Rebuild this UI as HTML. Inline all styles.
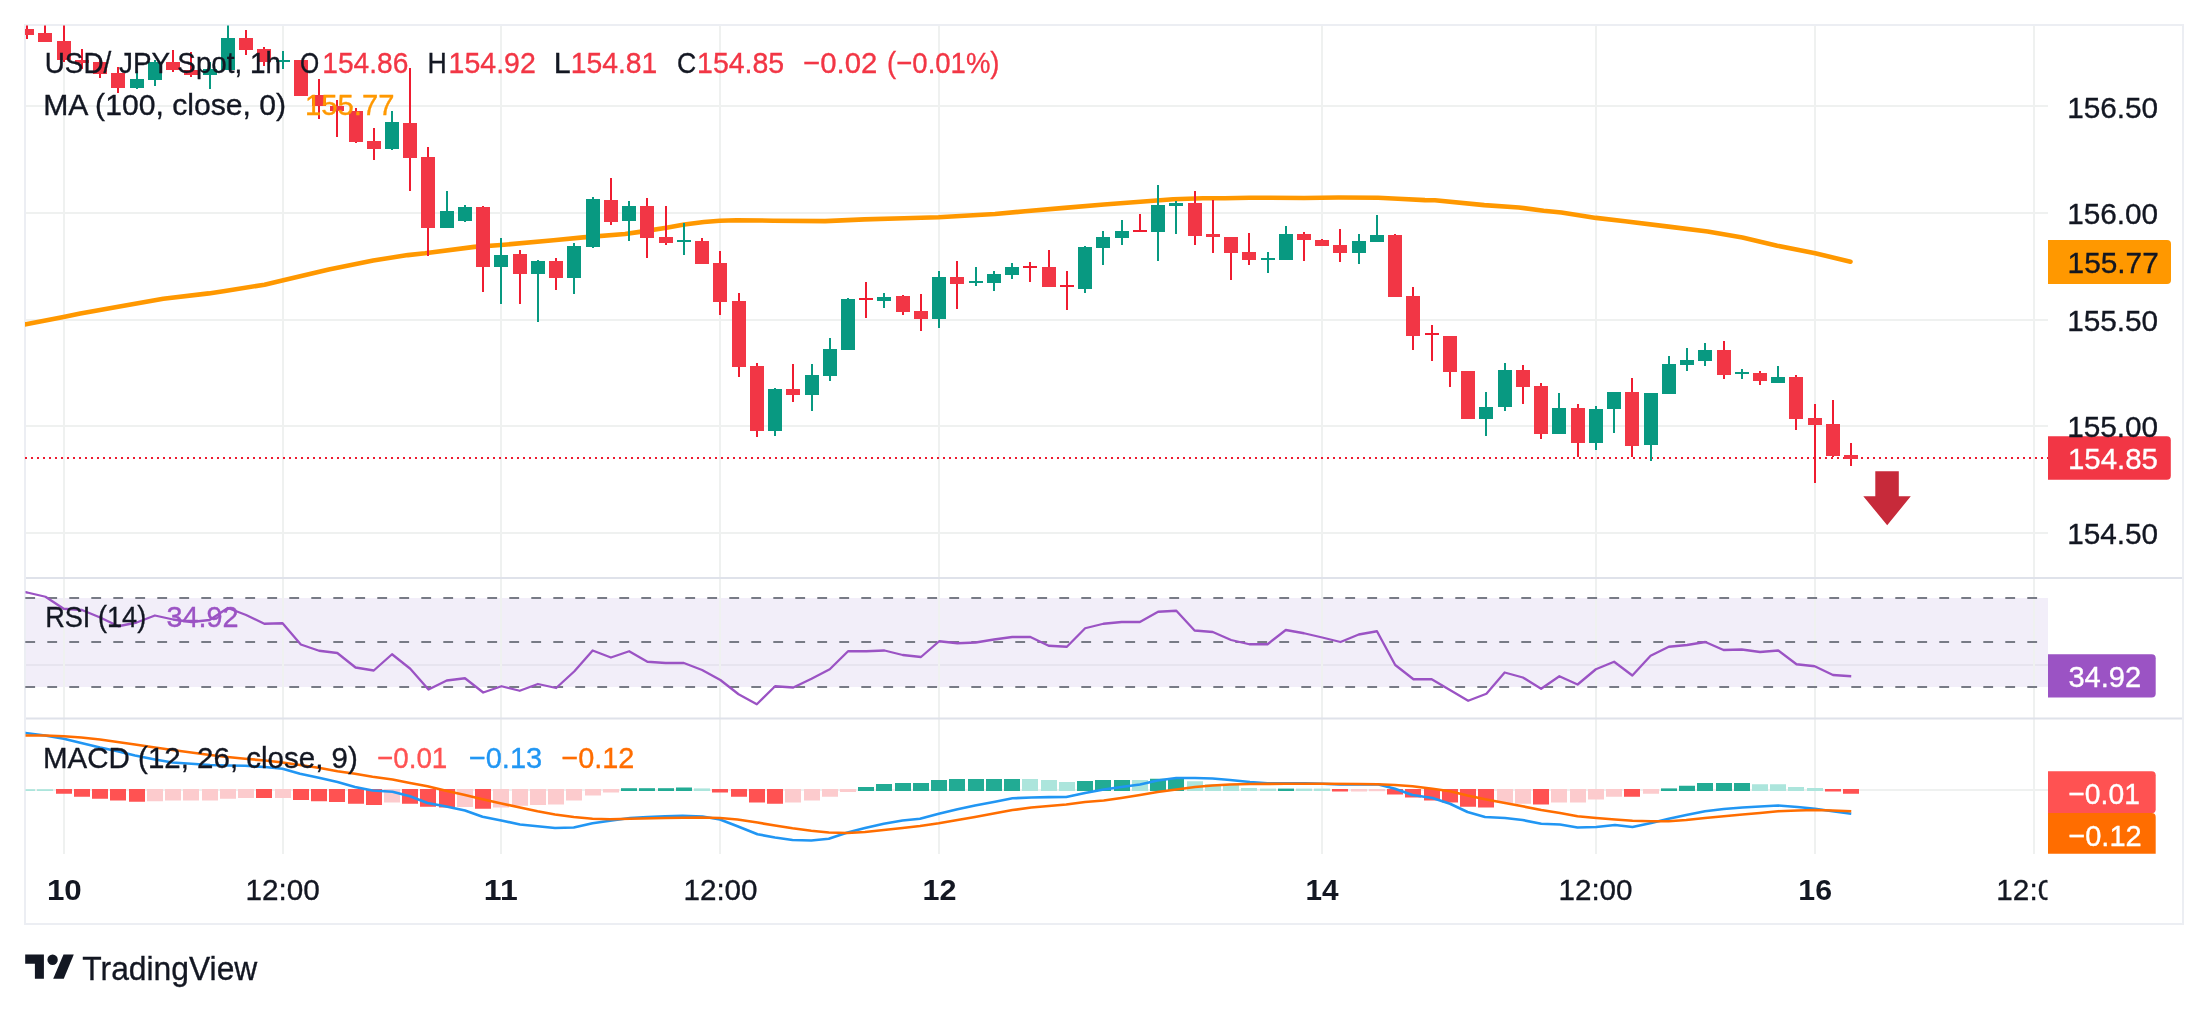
<!DOCTYPE html><html><head><meta charset="utf-8"><style>html,body{margin:0;padding:0;background:#fff;width:2208px;height:1012px;overflow:hidden}svg{display:block;will-change:transform}text{font-family:"Liberation Sans",sans-serif}</style></head><body>
<svg width="2208" height="1012" viewBox="0 0 2208 1012">
<defs><clipPath id="cm"><rect x="25" y="25.5" width="2023" height="551.5"/></clipPath><clipPath id="cr"><rect x="25.5" y="579" width="2022.5" height="139"/></clipPath><clipPath id="cd"><rect x="25.5" y="719.5" width="2022.5" height="134.5"/></clipPath></defs>
<rect x="26" y="105" width="2022" height="2" fill="#EFF1F0"/>
<rect x="26" y="212" width="2022" height="2" fill="#EFF1F0"/>
<rect x="26" y="319" width="2022" height="2" fill="#EFF1F0"/>
<rect x="26" y="425" width="2022" height="2" fill="#EFF1F0"/>
<rect x="26" y="532" width="2022" height="2" fill="#EFF1F0"/>
<rect x="26" y="598" width="2022" height="89" fill="#F2EEF9"/>
<rect x="26" y="664" width="2022" height="2" fill="#E7E4EF"/>
<rect x="26" y="789" width="2022" height="2" fill="#EFF1F0"/>
<rect x="63" y="26" width="2" height="828" fill="#EFF1F0"/>
<rect x="282" y="26" width="2" height="828" fill="#EFF1F0"/>
<rect x="500" y="26" width="2" height="828" fill="#EFF1F0"/>
<rect x="719" y="26" width="2" height="828" fill="#EFF1F0"/>
<rect x="938" y="26" width="2" height="828" fill="#EFF1F0"/>
<rect x="1321" y="26" width="2" height="828" fill="#EFF1F0"/>
<rect x="1595" y="26" width="2" height="828" fill="#EFF1F0"/>
<rect x="1814" y="26" width="2" height="828" fill="#EFF1F0"/>
<rect x="2033" y="26" width="2" height="828" fill="#EFF1F0"/>
<rect x="25" y="25" width="2158" height="899" fill="none" stroke="#ECEEF3" stroke-width="2"/>
<rect x="26" y="577" width="2156" height="2" fill="#DFE2EA"/>
<rect x="26" y="717.5" width="2156" height="2" fill="#DFE2EA"/>
<line x1="25.3" y1="598" x2="2040" y2="598" stroke="#787B86" stroke-width="2" stroke-dasharray="9.8 12.2"/>
<line x1="25.3" y1="642" x2="2040" y2="642" stroke="#787B86" stroke-width="2" stroke-dasharray="9.8 12.2"/>
<line x1="25.3" y1="687" x2="2040" y2="687" stroke="#787B86" stroke-width="2" stroke-dasharray="9.8 12.2"/>
<g clip-path="url(#cm)">
<polyline points="20,325.5 26,324.2 63.5,317.1 80.3,313.6 123.8,305.7 163.3,298.8 208.8,293.4 225,290.9 264.5,284.7 283.3,280.3 328.8,269.4 373.2,260.5 407.8,255.1 425,253.3 474.4,246.9 501.1,245 553.5,240.3 583.1,237.4 625,234 639.8,231.9 666.5,227.7 684.3,224.5 704,222 719.9,220.7 736.7,220.2 773.2,220.7 825,221.1 864.5,219.4 904,218.2 938.6,217.2 973.2,215.3 995,214 1025,211.3 1064.5,207.9 1104,204.5 1143.6,201.5 1173.2,199.3 1202.9,198.3 1225,198.3 1249.7,197.7 1304,198 1338.6,197.5 1378.2,197.7 1397.9,198.7 1425,200.1 1434.9,200.3 1484.3,205.1 1518.9,207.5 1543.6,210.7 1561.4,212.5 1596,217.9 1625,221.2 1668.5,226.6 1707.6,231.5 1742.4,237.5 1777.2,245.7 1815.2,253.3 1850.5,261.7" fill="none" stroke="#FF9800" stroke-width="4.6" stroke-linejoin="round" stroke-linecap="round"/>
<line x1="25" y1="458" x2="2048" y2="458" stroke="#EE1B30" stroke-width="2" stroke-dasharray="2 4"/>
<rect x="26" y="20" width="2" height="19" fill="#EF1C30"/>
<rect x="20" y="29" width="14" height="6" fill="#F23645"/>
<rect x="44" y="20" width="2" height="22" fill="#EF1C30"/>
<rect x="38" y="33" width="14" height="9" fill="#F23645"/>
<rect x="63" y="20" width="2" height="42" fill="#EF1C30"/>
<rect x="57" y="41" width="14" height="19" fill="#F23645"/>
<rect x="81" y="49" width="2" height="20" fill="#EF1C30"/>
<rect x="75" y="60" width="14" height="3" fill="#F23645"/>
<rect x="99" y="58" width="2" height="20" fill="#EF1C30"/>
<rect x="93" y="62" width="14" height="12" fill="#F23645"/>
<rect x="117" y="67" width="2" height="26" fill="#EF1C30"/>
<rect x="111" y="73" width="14" height="15" fill="#F23645"/>
<rect x="136" y="71" width="2" height="18" fill="#089981"/>
<rect x="130" y="79" width="14" height="9" fill="#089981"/>
<rect x="154" y="60" width="2" height="26" fill="#089981"/>
<rect x="148" y="62" width="14" height="18" fill="#089981"/>
<rect x="172" y="50" width="2" height="22" fill="#EF1C30"/>
<rect x="166" y="62" width="14" height="8" fill="#F23645"/>
<rect x="190" y="52" width="2" height="25" fill="#EF1C30"/>
<rect x="184" y="70" width="14" height="5" fill="#F23645"/>
<rect x="209" y="62" width="2" height="27" fill="#089981"/>
<rect x="203" y="69" width="14" height="6" fill="#089981"/>
<rect x="227" y="20" width="2" height="50" fill="#089981"/>
<rect x="221" y="38" width="14" height="32" fill="#089981"/>
<rect x="245" y="30" width="2" height="25" fill="#EF1C30"/>
<rect x="239" y="38" width="14" height="12" fill="#F23645"/>
<rect x="263" y="47" width="2" height="19" fill="#EF1C30"/>
<rect x="257" y="49" width="14" height="13" fill="#F23645"/>
<rect x="282" y="51" width="2" height="18" fill="#089981"/>
<rect x="276" y="60" width="14" height="2" fill="#089981"/>
<rect x="300" y="60" width="2" height="36" fill="#EF1C30"/>
<rect x="294" y="60" width="14" height="36" fill="#F23645"/>
<rect x="318" y="79" width="2" height="40" fill="#EF1C30"/>
<rect x="312" y="95" width="14" height="11" fill="#F23645"/>
<rect x="336" y="100" width="2" height="37" fill="#EF1C30"/>
<rect x="330" y="106" width="14" height="5" fill="#F23645"/>
<rect x="355" y="108" width="2" height="35" fill="#EF1C30"/>
<rect x="349" y="111" width="14" height="31" fill="#F23645"/>
<rect x="373" y="128" width="2" height="32" fill="#EF1C30"/>
<rect x="367" y="141" width="14" height="8" fill="#F23645"/>
<rect x="391" y="111" width="2" height="39" fill="#089981"/>
<rect x="385" y="122" width="14" height="27" fill="#089981"/>
<rect x="409" y="68" width="2" height="123" fill="#EF1C30"/>
<rect x="403" y="123" width="14" height="35" fill="#F23645"/>
<rect x="427" y="147" width="2" height="109" fill="#EF1C30"/>
<rect x="421" y="157" width="14" height="71" fill="#F23645"/>
<rect x="446" y="191" width="2" height="37" fill="#089981"/>
<rect x="440" y="211" width="14" height="17" fill="#089981"/>
<rect x="464" y="205" width="2" height="17" fill="#089981"/>
<rect x="458" y="207" width="14" height="14" fill="#089981"/>
<rect x="482" y="206" width="2" height="86" fill="#EF1C30"/>
<rect x="476" y="207" width="14" height="60" fill="#F23645"/>
<rect x="500" y="238" width="2" height="66" fill="#089981"/>
<rect x="494" y="255" width="14" height="12" fill="#089981"/>
<rect x="519" y="250" width="2" height="54" fill="#EF1C30"/>
<rect x="513" y="254" width="14" height="20" fill="#F23645"/>
<rect x="537" y="260" width="2" height="62" fill="#089981"/>
<rect x="531" y="261" width="14" height="13" fill="#089981"/>
<rect x="555" y="258" width="2" height="32" fill="#EF1C30"/>
<rect x="549" y="261" width="14" height="17" fill="#F23645"/>
<rect x="573" y="243" width="2" height="51" fill="#089981"/>
<rect x="567" y="246" width="14" height="32" fill="#089981"/>
<rect x="592" y="197" width="2" height="51" fill="#089981"/>
<rect x="586" y="199" width="14" height="48" fill="#089981"/>
<rect x="610" y="178" width="2" height="47" fill="#EF1C30"/>
<rect x="604" y="200" width="14" height="22" fill="#F23645"/>
<rect x="628" y="201" width="2" height="40" fill="#089981"/>
<rect x="622" y="206" width="14" height="15" fill="#089981"/>
<rect x="646" y="198" width="2" height="60" fill="#EF1C30"/>
<rect x="640" y="206" width="14" height="32" fill="#F23645"/>
<rect x="665" y="206" width="2" height="39" fill="#EF1C30"/>
<rect x="659" y="237" width="14" height="6" fill="#F23645"/>
<rect x="683" y="223" width="2" height="32" fill="#089981"/>
<rect x="677" y="240" width="14" height="2" fill="#089981"/>
<rect x="701" y="238" width="2" height="26" fill="#EF1C30"/>
<rect x="695" y="241" width="14" height="23" fill="#F23645"/>
<rect x="719" y="251" width="2" height="64" fill="#EF1C30"/>
<rect x="713" y="263" width="14" height="39" fill="#F23645"/>
<rect x="738" y="293" width="2" height="84" fill="#EF1C30"/>
<rect x="732" y="301" width="14" height="66" fill="#F23645"/>
<rect x="756" y="363" width="2" height="74" fill="#EF1C30"/>
<rect x="750" y="366" width="14" height="65" fill="#F23645"/>
<rect x="774" y="388" width="2" height="48" fill="#089981"/>
<rect x="768" y="389" width="14" height="42" fill="#089981"/>
<rect x="792" y="364" width="2" height="38" fill="#EF1C30"/>
<rect x="786" y="389" width="14" height="6" fill="#F23645"/>
<rect x="811" y="364" width="2" height="47" fill="#089981"/>
<rect x="805" y="375" width="14" height="20" fill="#089981"/>
<rect x="829" y="338" width="2" height="43" fill="#089981"/>
<rect x="823" y="349" width="14" height="27" fill="#089981"/>
<rect x="847" y="298" width="2" height="52" fill="#089981"/>
<rect x="841" y="299" width="14" height="51" fill="#089981"/>
<rect x="865" y="282" width="2" height="36" fill="#EF1C30"/>
<rect x="859" y="298" width="14" height="2" fill="#EF1C30"/>
<rect x="883" y="293" width="2" height="15" fill="#089981"/>
<rect x="877" y="297" width="14" height="4" fill="#089981"/>
<rect x="902" y="295" width="2" height="20" fill="#EF1C30"/>
<rect x="896" y="296" width="14" height="16" fill="#F23645"/>
<rect x="920" y="294" width="2" height="37" fill="#EF1C30"/>
<rect x="914" y="311" width="14" height="8" fill="#F23645"/>
<rect x="938" y="271" width="2" height="57" fill="#089981"/>
<rect x="932" y="277" width="14" height="42" fill="#089981"/>
<rect x="956" y="261" width="2" height="48" fill="#EF1C30"/>
<rect x="950" y="277" width="14" height="7" fill="#F23645"/>
<rect x="975" y="267" width="2" height="19" fill="#089981"/>
<rect x="969" y="281" width="14" height="2" fill="#089981"/>
<rect x="993" y="271" width="2" height="20" fill="#089981"/>
<rect x="987" y="274" width="14" height="9" fill="#089981"/>
<rect x="1011" y="263" width="2" height="16" fill="#089981"/>
<rect x="1005" y="267" width="14" height="8" fill="#089981"/>
<rect x="1029" y="262" width="2" height="20" fill="#EF1C30"/>
<rect x="1023" y="266" width="14" height="2" fill="#EF1C30"/>
<rect x="1048" y="250" width="2" height="37" fill="#EF1C30"/>
<rect x="1042" y="267" width="14" height="20" fill="#F23645"/>
<rect x="1066" y="271" width="2" height="39" fill="#EF1C30"/>
<rect x="1060" y="285" width="14" height="2" fill="#EF1C30"/>
<rect x="1084" y="246" width="2" height="47" fill="#089981"/>
<rect x="1078" y="247" width="14" height="42" fill="#089981"/>
<rect x="1102" y="231" width="2" height="34" fill="#089981"/>
<rect x="1096" y="237" width="14" height="11" fill="#089981"/>
<rect x="1121" y="220" width="2" height="25" fill="#089981"/>
<rect x="1115" y="231" width="14" height="7" fill="#089981"/>
<rect x="1139" y="214" width="2" height="18" fill="#EF1C30"/>
<rect x="1133" y="230" width="14" height="2" fill="#EF1C30"/>
<rect x="1157" y="185" width="2" height="76" fill="#089981"/>
<rect x="1151" y="205" width="14" height="27" fill="#089981"/>
<rect x="1175" y="201" width="2" height="33" fill="#089981"/>
<rect x="1169" y="203" width="14" height="3" fill="#089981"/>
<rect x="1194" y="191" width="2" height="54" fill="#EF1C30"/>
<rect x="1188" y="203" width="14" height="33" fill="#F23645"/>
<rect x="1212" y="200" width="2" height="53" fill="#EF1C30"/>
<rect x="1206" y="234" width="14" height="3" fill="#F23645"/>
<rect x="1230" y="237" width="2" height="43" fill="#EF1C30"/>
<rect x="1224" y="237" width="14" height="16" fill="#F23645"/>
<rect x="1248" y="233" width="2" height="32" fill="#EF1C30"/>
<rect x="1242" y="252" width="14" height="8" fill="#F23645"/>
<rect x="1267" y="252" width="2" height="21" fill="#089981"/>
<rect x="1261" y="258" width="14" height="2" fill="#089981"/>
<rect x="1285" y="226" width="2" height="34" fill="#089981"/>
<rect x="1279" y="234" width="14" height="26" fill="#089981"/>
<rect x="1303" y="232" width="2" height="29" fill="#EF1C30"/>
<rect x="1297" y="234" width="14" height="6" fill="#F23645"/>
<rect x="1321" y="239" width="2" height="7" fill="#EF1C30"/>
<rect x="1315" y="240" width="14" height="6" fill="#F23645"/>
<rect x="1339" y="229" width="2" height="33" fill="#EF1C30"/>
<rect x="1333" y="245" width="14" height="8" fill="#F23645"/>
<rect x="1358" y="234" width="2" height="30" fill="#089981"/>
<rect x="1352" y="241" width="14" height="12" fill="#089981"/>
<rect x="1376" y="215" width="2" height="27" fill="#089981"/>
<rect x="1370" y="235" width="14" height="7" fill="#089981"/>
<rect x="1394" y="234" width="2" height="63" fill="#EF1C30"/>
<rect x="1388" y="235" width="14" height="62" fill="#F23645"/>
<rect x="1412" y="287" width="2" height="63" fill="#EF1C30"/>
<rect x="1406" y="296" width="14" height="40" fill="#F23645"/>
<rect x="1431" y="325" width="2" height="36" fill="#EF1C30"/>
<rect x="1425" y="333" width="14" height="2" fill="#EF1C30"/>
<rect x="1449" y="336" width="2" height="51" fill="#EF1C30"/>
<rect x="1443" y="336" width="14" height="36" fill="#F23645"/>
<rect x="1467" y="371" width="2" height="48" fill="#EF1C30"/>
<rect x="1461" y="371" width="14" height="48" fill="#F23645"/>
<rect x="1485" y="392" width="2" height="44" fill="#089981"/>
<rect x="1479" y="407" width="14" height="12" fill="#089981"/>
<rect x="1504" y="363" width="2" height="48" fill="#089981"/>
<rect x="1498" y="370" width="14" height="37" fill="#089981"/>
<rect x="1522" y="365" width="2" height="39" fill="#EF1C30"/>
<rect x="1516" y="370" width="14" height="17" fill="#F23645"/>
<rect x="1540" y="383" width="2" height="56" fill="#EF1C30"/>
<rect x="1534" y="386" width="14" height="48" fill="#F23645"/>
<rect x="1558" y="393" width="2" height="41" fill="#089981"/>
<rect x="1552" y="408" width="14" height="26" fill="#089981"/>
<rect x="1577" y="404" width="2" height="53" fill="#EF1C30"/>
<rect x="1571" y="408" width="14" height="35" fill="#F23645"/>
<rect x="1595" y="406" width="2" height="44" fill="#089981"/>
<rect x="1589" y="409" width="14" height="34" fill="#089981"/>
<rect x="1613" y="392" width="2" height="41" fill="#089981"/>
<rect x="1607" y="392" width="14" height="17" fill="#089981"/>
<rect x="1631" y="378" width="2" height="79" fill="#EF1C30"/>
<rect x="1625" y="392" width="14" height="54" fill="#F23645"/>
<rect x="1650" y="393" width="2" height="68" fill="#089981"/>
<rect x="1644" y="393" width="14" height="52" fill="#089981"/>
<rect x="1668" y="356" width="2" height="38" fill="#089981"/>
<rect x="1662" y="364" width="14" height="30" fill="#089981"/>
<rect x="1686" y="348" width="2" height="23" fill="#089981"/>
<rect x="1680" y="360" width="14" height="5" fill="#089981"/>
<rect x="1704" y="343" width="2" height="23" fill="#089981"/>
<rect x="1698" y="350" width="14" height="11" fill="#089981"/>
<rect x="1723" y="341" width="2" height="38" fill="#EF1C30"/>
<rect x="1717" y="350" width="14" height="25" fill="#F23645"/>
<rect x="1741" y="369" width="2" height="10" fill="#089981"/>
<rect x="1735" y="372" width="14" height="2" fill="#089981"/>
<rect x="1759" y="371" width="2" height="14" fill="#EF1C30"/>
<rect x="1753" y="373" width="14" height="8" fill="#F23645"/>
<rect x="1777" y="366" width="2" height="17" fill="#089981"/>
<rect x="1771" y="377" width="14" height="6" fill="#089981"/>
<rect x="1795" y="375" width="2" height="55" fill="#EF1C30"/>
<rect x="1789" y="377" width="14" height="42" fill="#F23645"/>
<rect x="1814" y="404" width="2" height="79" fill="#EF1C30"/>
<rect x="1808" y="418" width="14" height="7" fill="#F23645"/>
<rect x="1832" y="400" width="2" height="57" fill="#EF1C30"/>
<rect x="1826" y="424" width="14" height="32" fill="#F23645"/>
<rect x="1850" y="443" width="2" height="23" fill="#EF1C30"/>
<rect x="1844" y="455" width="14" height="4" fill="#F23645"/>
<path d="M1875.3,471.2 L1898.8,471.2 L1898.8,496.2 L1910.8,496.2 L1887.2,525.3 L1863.3,496.2 L1875.3,496.2 Z" fill="#C72A3A"/>
</g>
<g clip-path="url(#cr)">
<polyline points="20,591.2 27.22,592.5 45.46,596.75 63.7,608.75 81.94,610 100.18,617.5 118.42,626.25 136.66,622.5 154.9,615.5 173.14,619.5 191.38,622 209.62,620 227.86,608 246.1,615 264.34,623.75 282.58,623.25 300.82,644.5 319.06,650.75 337.3,653 355.54,667.5 373.78,670.5 392.02,654.25 410.26,668.75 428.5,689.5 446.74,680.5 464.98,678.25 483.22,692.5 501.46,686.25 519.7,690.75 537.94,684 556.18,688 574.42,671.25 592.66,650.5 610.9,657.5 629.14,651.25 647.38,661.75 665.62,663 683.86,663 702.1,670 720.34,680 738.58,694.25 756.82,704.25 775.06,686.25 793.3,687.5 811.54,678.75 829.78,669.25 848.02,651.25 866.26,651.25 884.5,650.5 902.74,655 920.98,657 939.22,641.25 957.46,643.25 975.7,642.5 993.94,639.5 1012.18,637 1030.42,637 1048.66,645.75 1066.9,646.75 1085.14,628.25 1103.38,623.75 1121.62,622 1139.86,622 1158.1,611.75 1176.34,610.75 1194.58,630.5 1212.82,632 1231.06,640 1249.3,644.25 1267.54,644.25 1285.78,630 1304.02,633.25 1322.26,637.5 1340.5,642 1358.74,634.5 1376.98,631.25 1395.22,665 1413.46,679.25 1431.7,679.25 1449.94,690 1468.18,700.75 1486.42,693.75 1504.66,672.5 1522.9,677.5 1541.14,688.75 1559.38,676.25 1577.62,684.5 1595.86,669.25 1614.1,661.75 1632.34,675.5 1650.58,655.75 1668.82,646.75 1687.06,645 1705.3,642 1723.54,650 1741.78,649.5 1760.02,652 1778.26,650.5 1796.5,664.25 1814.74,666.25 1832.98,675 1851.22,676.25" fill="none" stroke="#9B53C4" stroke-width="2.3" stroke-linejoin="round"/>
</g>
<g clip-path="url(#cd)">
<rect x="19" y="789.2" width="16" height="1.8" fill="#ACE5DC"/>
<rect x="37" y="789.2" width="16" height="1.8" fill="#ACE5DC"/>
<rect x="56" y="789" width="16" height="4.75" fill="#FF5252"/>
<rect x="74" y="789" width="16" height="7.75" fill="#FF5252"/>
<rect x="92" y="789" width="16" height="9.75" fill="#FF5252"/>
<rect x="110" y="789" width="16" height="11.5" fill="#FF5252"/>
<rect x="129" y="789" width="16" height="12.75" fill="#FF5252"/>
<rect x="147" y="789" width="16" height="12.25" fill="#FCCBCD"/>
<rect x="165" y="789" width="16" height="11.5" fill="#FCCBCD"/>
<rect x="183" y="789" width="16" height="11.5" fill="#FCCBCD"/>
<rect x="202" y="789" width="16" height="11.5" fill="#FCCBCD"/>
<rect x="220" y="789" width="16" height="9.75" fill="#FCCBCD"/>
<rect x="238" y="789" width="16" height="9" fill="#FCCBCD"/>
<rect x="256" y="789" width="16" height="9" fill="#FF5252"/>
<rect x="275" y="789" width="16" height="9" fill="#FCCBCD"/>
<rect x="293" y="789" width="16" height="11" fill="#FF5252"/>
<rect x="311" y="789" width="16" height="12.25" fill="#FF5252"/>
<rect x="329" y="789" width="16" height="13" fill="#FF5252"/>
<rect x="348" y="789" width="16" height="14.75" fill="#FF5252"/>
<rect x="366" y="789" width="16" height="16" fill="#FF5252"/>
<rect x="384" y="789" width="16" height="13.5" fill="#FCCBCD"/>
<rect x="402" y="789" width="16" height="14.75" fill="#FF5252"/>
<rect x="420" y="789" width="16" height="17.75" fill="#FF5252"/>
<rect x="439" y="789" width="16" height="18.5" fill="#FF5252"/>
<rect x="457" y="789" width="16" height="18" fill="#FCCBCD"/>
<rect x="475" y="789" width="16" height="19.75" fill="#FF5252"/>
<rect x="493" y="789" width="16" height="18.5" fill="#FCCBCD"/>
<rect x="512" y="789" width="16" height="16.75" fill="#FCCBCD"/>
<rect x="530" y="789" width="16" height="16" fill="#FCCBCD"/>
<rect x="548" y="789" width="16" height="15.5" fill="#FCCBCD"/>
<rect x="566" y="789" width="16" height="11.5" fill="#FCCBCD"/>
<rect x="585" y="789" width="16" height="6.5" fill="#FCCBCD"/>
<rect x="603" y="789" width="16" height="3.5" fill="#FCCBCD"/>
<rect x="621" y="788.2" width="16" height="2.8" fill="#22AB94"/>
<rect x="639" y="788.2" width="16" height="2.8" fill="#22AB94"/>
<rect x="658" y="788.2" width="16" height="2.8" fill="#22AB94"/>
<rect x="676" y="787.5" width="16" height="3.5" fill="#22AB94"/>
<rect x="694" y="788.4" width="16" height="2.6" fill="#ACE5DC"/>
<rect x="712" y="789" width="16" height="3.5" fill="#FF5252"/>
<rect x="731" y="789" width="16" height="7.75" fill="#FF5252"/>
<rect x="749" y="789" width="16" height="13.5" fill="#FF5252"/>
<rect x="767" y="789" width="16" height="14.75" fill="#FF5252"/>
<rect x="785" y="789" width="16" height="13.5" fill="#FCCBCD"/>
<rect x="804" y="789" width="16" height="11.5" fill="#FCCBCD"/>
<rect x="822" y="789" width="16" height="7.75" fill="#FCCBCD"/>
<rect x="840" y="789" width="16" height="3" fill="#FCCBCD"/>
<rect x="858" y="787" width="16" height="4" fill="#22AB94"/>
<rect x="876" y="784" width="16" height="7" fill="#22AB94"/>
<rect x="895" y="783" width="16" height="8" fill="#22AB94"/>
<rect x="913" y="783" width="16" height="8" fill="#22AB94"/>
<rect x="931" y="780" width="16" height="11" fill="#22AB94"/>
<rect x="949" y="779" width="16" height="12" fill="#22AB94"/>
<rect x="968" y="779" width="16" height="12" fill="#22AB94"/>
<rect x="986" y="779" width="16" height="12" fill="#22AB94"/>
<rect x="1004" y="779" width="16" height="12" fill="#22AB94"/>
<rect x="1022" y="779" width="16" height="12" fill="#ACE5DC"/>
<rect x="1041" y="780" width="16" height="11" fill="#ACE5DC"/>
<rect x="1059" y="782" width="16" height="9" fill="#ACE5DC"/>
<rect x="1077" y="781" width="16" height="10" fill="#22AB94"/>
<rect x="1095" y="780" width="16" height="11" fill="#22AB94"/>
<rect x="1114" y="780" width="16" height="11" fill="#22AB94"/>
<rect x="1132" y="780" width="16" height="11" fill="#ACE5DC"/>
<rect x="1150" y="778.75" width="16" height="12.25" fill="#22AB94"/>
<rect x="1168" y="778.25" width="16" height="12.75" fill="#22AB94"/>
<rect x="1187" y="781.25" width="16" height="9.75" fill="#ACE5DC"/>
<rect x="1205" y="784.25" width="16" height="6.75" fill="#ACE5DC"/>
<rect x="1223" y="785" width="16" height="6" fill="#ACE5DC"/>
<rect x="1241" y="788" width="16" height="3" fill="#ACE5DC"/>
<rect x="1260" y="788.6" width="16" height="2.4" fill="#ACE5DC"/>
<rect x="1278" y="788.6" width="16" height="2.4" fill="#22AB94"/>
<rect x="1296" y="788.6" width="16" height="2.4" fill="#ACE5DC"/>
<rect x="1314" y="788.6" width="16" height="2.4" fill="#ACE5DC"/>
<rect x="1332" y="789" width="16" height="2.5" fill="#FF5252"/>
<rect x="1351" y="789" width="16" height="2.5" fill="#FCCBCD"/>
<rect x="1369" y="789" width="16" height="2.2" fill="#FCCBCD"/>
<rect x="1387" y="789" width="16" height="5.5" fill="#FF5252"/>
<rect x="1405" y="789" width="16" height="8.5" fill="#FF5252"/>
<rect x="1424" y="789" width="16" height="11.5" fill="#FF5252"/>
<rect x="1442" y="789" width="16" height="13.5" fill="#FF5252"/>
<rect x="1460" y="789" width="16" height="17.75" fill="#FF5252"/>
<rect x="1478" y="789" width="16" height="18.5" fill="#FF5252"/>
<rect x="1497" y="789" width="16" height="14" fill="#FCCBCD"/>
<rect x="1515" y="789" width="16" height="14.75" fill="#FCCBCD"/>
<rect x="1533" y="789" width="16" height="15.5" fill="#FF5252"/>
<rect x="1551" y="789" width="16" height="13.5" fill="#FCCBCD"/>
<rect x="1570" y="789" width="16" height="13.5" fill="#FCCBCD"/>
<rect x="1588" y="789" width="16" height="10.5" fill="#FCCBCD"/>
<rect x="1606" y="789" width="16" height="7.75" fill="#FCCBCD"/>
<rect x="1624" y="789" width="16" height="7.75" fill="#FF5252"/>
<rect x="1643" y="789" width="16" height="4.75" fill="#FCCBCD"/>
<rect x="1661" y="788.4" width="16" height="2.6" fill="#22AB94"/>
<rect x="1679" y="785.75" width="16" height="5.25" fill="#22AB94"/>
<rect x="1697" y="783" width="16" height="8" fill="#22AB94"/>
<rect x="1716" y="783" width="16" height="8" fill="#22AB94"/>
<rect x="1734" y="783" width="16" height="8" fill="#22AB94"/>
<rect x="1752" y="784.25" width="16" height="6.75" fill="#ACE5DC"/>
<rect x="1770" y="784.25" width="16" height="6.75" fill="#ACE5DC"/>
<rect x="1788" y="787" width="16" height="4" fill="#ACE5DC"/>
<rect x="1807" y="788" width="16" height="3" fill="#ACE5DC"/>
<rect x="1825" y="789" width="16" height="2.5" fill="#FF5252"/>
<rect x="1843" y="789" width="16" height="4.75" fill="#FF5252"/>
<polyline points="20,732.2 25.5,733 45,735.5 63.75,738.75 81.25,743 100,747.5 117.5,751.25 135,755.5 155,759.5 172.5,762.5 191.25,763.75 210,765 227.5,765.5 245,765.75 265,767 282.5,768.75 300,773.75 320,778 337.5,782 355,787 372.5,790.5 392.5,791.75 410,796.25 427.5,803 445,806.25 465,810.5 482.5,816.75 502.5,820.75 520,824.5 537.5,826.25 555,828 573.75,827.5 592.5,823.25 610,820.75 630,818 647.5,817 665,816.25 682.5,815.75 702.5,816.5 720,819.5 737.5,826.25 757.5,834.25 775,837.5 792.5,840 811.25,840.5 828.75,838.75 847.5,832.5 865,828 883.75,823.75 902.5,820.5 920,818.75 938.75,813.75 957.5,809.25 975,805.5 995,801.75 1012.5,798.25 1031.25,797.5 1049,797.2 1066.25,797 1085,793 1103.75,789.5 1121.25,787 1140,784.5 1157.5,780.5 1176.25,778 1195,778 1212.5,778.5 1230,780 1250,782 1267.5,783.25 1285,783.25 1305,783.25 1322.5,783.75 1340,784.5 1358.75,784.5 1377.5,784.25 1395,788.75 1412.5,795 1432.5,798 1450,803.75 1467.5,812 1485,817 1505,818 1522.5,820 1541.25,823.75 1560,824.5 1577.5,827.5 1596.25,827 1615,825 1632.5,827 1651.25,823 1668.75,818.75 1686.25,815 1705,811.25 1723.75,809 1742.5,807.5 1760,806.5 1778,805.5 1797.5,807 1815,808.75 1832.5,811.25 1851.25,813.75" fill="none" stroke="#2196F3" stroke-width="2.7" stroke-linejoin="round"/>
<polyline points="20,735.5 25.5,735.5 45,735.5 63.75,736.25 81.25,737.5 100,739.5 117.5,742 135,744.5 155,747.5 172.5,750 191.25,752.5 210,755 227.5,757 245,758.75 265,760.5 282.5,762.5 300,765 320,768 337.5,771.25 355,773.75 372.5,776.75 392.5,779.5 410,783 427.5,786.25 445,790.5 465,795 482.5,799.25 502.5,803.75 520,807.5 537.5,811.25 555,814.5 573.75,817 592.5,818.75 610,819.25 630,818.75 665,818 700,817.5 720,818 737.5,819.5 757.5,822.5 775,825.5 792.5,828.25 811.25,830.75 828.75,832.5 847.5,833 865,832 883.75,830 902.5,828 920,826 938.75,823.25 957.5,820 975,817 995,813.25 1012.5,810 1031.25,807.5 1066.25,804.5 1085,802 1103.75,800.5 1121.25,798 1140,795 1157.5,792 1176.25,789.5 1195,787 1212.5,785.5 1230,784.5 1250,784 1285,783.75 1322.5,783.75 1358.75,784 1377.5,784.25 1395,785 1412.5,786.25 1432.5,788.75 1450,791.25 1467.5,795.5 1485,799.25 1505,803 1522.5,806.25 1541.25,810 1560,813 1577.5,816.25 1596.25,818 1615,819.5 1632.5,820.75 1651.25,821.25 1668.75,821.25 1686.25,820 1705,818 1723.75,816.25 1742.5,814.5 1760,813 1778,811.25 1797.5,810.5 1815,810 1832.5,810.5 1851.25,811.25" fill="none" stroke="#FF6D00" stroke-width="2.7" stroke-linejoin="round"/>
</g>
<path d="M2048,240 H2167 Q2171,240 2171,244 V280 Q2171,284 2167,284 H2048 Z" fill="#FF9800"/>
<path d="M2048,436.2 H2166.8 Q2170.8,436.2 2170.8,440.2 V475.7 Q2170.8,479.7 2166.8,479.7 H2048 Z" fill="#F23645"/>
<path d="M2048,654.3 H2151.7 Q2155.7,654.3 2155.7,658.3 V693.6 Q2155.7,697.6 2151.7,697.6 H2048 Z" fill="#9B53C4"/>
<path d="M2048,771.3 H2151.7 Q2155.7,771.3 2155.7,775.3 V809.2 Q2155.7,813.2 2151.7,813.2 H2048 Z" fill="#FF5252"/>
<path d="M2048,813 H2151.7 Q2155.7,813 2155.7,817 V853.8 H2048 Z" fill="#FF6D00"/>
<defs><clipPath id="ct"><rect x="0" y="855" width="2047.5" height="68"/></clipPath></defs>
<text x="44.74" y="72.7" font-size="30" fill="#131722" textLength="236.3" lengthAdjust="spacingAndGlyphs" stroke="#131722" stroke-width="0.35">USD/ JPY Spot, 1h</text>
<text x="299.91" y="72.7" font-size="30" fill="#131722" textLength="19.2" lengthAdjust="spacingAndGlyphs" stroke="#131722" stroke-width="0.35">O</text>
<text x="322.31" y="72.7" font-size="30" fill="#F23645" textLength="86.13" lengthAdjust="spacingAndGlyphs" stroke="#F23645" stroke-width="0.35">154.86</text>
<text x="427.5" y="72.7" font-size="30" fill="#131722" textLength="19.29" lengthAdjust="spacingAndGlyphs" stroke="#131722" stroke-width="0.35">H</text>
<text x="448.55" y="72.7" font-size="30" fill="#F23645" textLength="87.23" lengthAdjust="spacingAndGlyphs" stroke="#F23645" stroke-width="0.35">154.92</text>
<text x="553.74" y="72.7" font-size="30" fill="#131722" textLength="16.93" lengthAdjust="spacingAndGlyphs" stroke="#131722" stroke-width="0.35">L</text>
<text x="570.77" y="72.7" font-size="30" fill="#F23645" textLength="86.53" lengthAdjust="spacingAndGlyphs" stroke="#F23645" stroke-width="0.35">154.81</text>
<text x="677" y="72.7" font-size="30" fill="#131722" textLength="19.22" lengthAdjust="spacingAndGlyphs" stroke="#131722" stroke-width="0.35">C</text>
<text x="697.09" y="72.7" font-size="30" fill="#F23645" textLength="87.12" lengthAdjust="spacingAndGlyphs" stroke="#F23645" stroke-width="0.35">154.85</text>
<text x="803.12" y="72.7" font-size="30" fill="#F23645" textLength="74.25" lengthAdjust="spacingAndGlyphs" stroke="#F23645" stroke-width="0.35">−0.02</text>
<text x="887.12" y="72.7" font-size="30" fill="#F23645" textLength="112.41" lengthAdjust="spacingAndGlyphs" stroke="#F23645" stroke-width="0.35">(−0.01%)</text>
<text x="43.18" y="114.6" font-size="30" fill="#131722" textLength="242.97" lengthAdjust="spacingAndGlyphs" stroke="#131722" stroke-width="0.35">MA (100, close, 0)</text>
<text x="305.05" y="114.6" font-size="30" fill="#FF9800" textLength="89.38" lengthAdjust="spacingAndGlyphs" stroke="#FF9800" stroke-width="0.35">155.77</text>
<text x="45.16" y="626.6" font-size="30" fill="#131722" textLength="101.04" lengthAdjust="spacingAndGlyphs" stroke="#131722" stroke-width="0.35">RSI (14)</text>
<text x="166.39" y="626.6" font-size="30" fill="#9B53C4" textLength="72.22" lengthAdjust="spacingAndGlyphs" stroke="#9B53C4" stroke-width="0.35">34.92</text>
<text x="43.02" y="768.2" font-size="30" fill="#131722" textLength="314.8" lengthAdjust="spacingAndGlyphs" stroke="#131722" stroke-width="0.35">MACD (12, 26, close, 9)</text>
<text x="376.94" y="768.2" font-size="30" fill="#FF5252" textLength="70.41" lengthAdjust="spacingAndGlyphs" stroke="#FF5252" stroke-width="0.35">−0.01</text>
<text x="468.71" y="768.2" font-size="30" fill="#2196F3" textLength="73.5" lengthAdjust="spacingAndGlyphs" stroke="#2196F3" stroke-width="0.35">−0.13</text>
<text x="561.32" y="768.2" font-size="30" fill="#FF6D00" textLength="73.05" lengthAdjust="spacingAndGlyphs" stroke="#FF6D00" stroke-width="0.35">−0.12</text>
<text x="2067.16" y="117.9" font-size="30" fill="#131722" textLength="90.95" lengthAdjust="spacingAndGlyphs" stroke="#131722" stroke-width="0.35">156.50</text>
<text x="2067.16" y="224" font-size="30" fill="#131722" textLength="90.95" lengthAdjust="spacingAndGlyphs" stroke="#131722" stroke-width="0.35">156.00</text>
<text x="2067.16" y="330.8" font-size="30" fill="#131722" textLength="90.95" lengthAdjust="spacingAndGlyphs" stroke="#131722" stroke-width="0.35">155.50</text>
<text x="2067.16" y="437.3" font-size="30" fill="#131722" textLength="90.95" lengthAdjust="spacingAndGlyphs" stroke="#131722" stroke-width="0.35">155.00</text>
<text x="2067.16" y="544" font-size="30" fill="#131722" textLength="90.95" lengthAdjust="spacingAndGlyphs" stroke="#131722" stroke-width="0.35">154.50</text>
<text x="2067.61" y="272.6" font-size="30" fill="#131722" textLength="91.1" lengthAdjust="spacingAndGlyphs" stroke="#131722" stroke-width="0.35">155.77</text>
<text x="2067.94" y="469.2" font-size="30" fill="#FFFFFF" textLength="89.92" lengthAdjust="spacingAndGlyphs" stroke="#FFFFFF" stroke-width="0.35">154.85</text>
<text x="2068.38" y="686.6" font-size="30" fill="#FFFFFF" textLength="72.85" lengthAdjust="spacingAndGlyphs" stroke="#FFFFFF" stroke-width="0.35">34.92</text>
<text x="2068.37" y="804" font-size="30" fill="#FFFFFF" textLength="71.49" lengthAdjust="spacingAndGlyphs" stroke="#FFFFFF" stroke-width="0.35">−0.01</text>
<text x="2068.27" y="846.4" font-size="30" fill="#FFFFFF" textLength="73.42" lengthAdjust="spacingAndGlyphs" stroke="#FFFFFF" stroke-width="0.35">−0.12</text>
<text x="46.91" y="900" font-size="30" fill="#131722" textLength="34.83" lengthAdjust="spacingAndGlyphs" font-weight="bold">10</text>
<text x="245.44" y="900" font-size="30" fill="#131722" textLength="74.34" lengthAdjust="spacingAndGlyphs" stroke="#131722" stroke-width="0.35">12:00</text>
<text x="483.89" y="900" font-size="30" fill="#131722" textLength="33.79" lengthAdjust="spacingAndGlyphs" font-weight="bold">11</text>
<text x="683.42" y="900" font-size="30" fill="#131722" textLength="74.18" lengthAdjust="spacingAndGlyphs" stroke="#131722" stroke-width="0.35">12:00</text>
<text x="922.62" y="900" font-size="30" fill="#131722" textLength="33.96" lengthAdjust="spacingAndGlyphs" font-weight="bold">12</text>
<text x="1305.4" y="900" font-size="30" fill="#131722" textLength="33.09" lengthAdjust="spacingAndGlyphs" font-weight="bold">14</text>
<text x="1558.42" y="900" font-size="30" fill="#131722" textLength="74.18" lengthAdjust="spacingAndGlyphs" stroke="#131722" stroke-width="0.35">12:00</text>
<text x="1798.29" y="900" font-size="30" fill="#131722" textLength="33.7" lengthAdjust="spacingAndGlyphs" font-weight="bold">16</text>
<text x="1996.34" y="900" font-size="30" fill="#131722" textLength="74.38" lengthAdjust="spacingAndGlyphs" stroke="#131722" stroke-width="0.35" clip-path="url(#ct)">12:00</text>
<text x="82.34" y="979.8" font-size="34" fill="#131722" textLength="175.02" lengthAdjust="spacingAndGlyphs" stroke="#131722" stroke-width="0.35">TradingView</text>
<path d="M25.2,954.5 H43.9 V978.7 H34.9 V963.8 H25.2 Z" fill="#131722"/>
<circle cx="52.6" cy="959.7" r="5.2" fill="#131722"/>
<path d="M63.5,954.5 H73.8 L63.75,978.7 H53.2 Z" fill="#131722"/>
</svg></body></html>
